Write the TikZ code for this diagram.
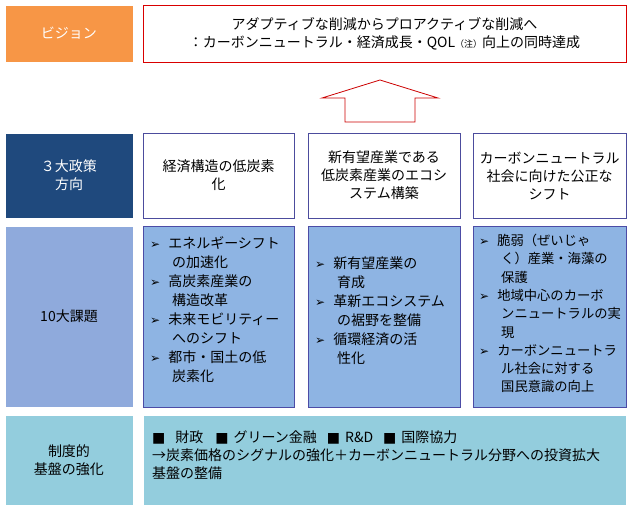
\documentclass[tikz,border=0pt]{standalone}
\usepackage{fontspec}
\setmainfont{Noto Sans CJK JP}
\newfontfamily\dv{DejaVu Sans}
\begin{document}
\begin{tikzpicture}[x=1pt,y=-1pt,font=\fontsize{14}{18}\selectfont,
 lbl/.style={draw=white,line width=0.8pt,minimum width=128pt,align=center,inner sep=0pt},
 wbox/.style={draw=blue!45!black!70,fill=white,line width=0.7pt,align=center,inner sep=0pt},
 bbox/.style={draw=blue!50!black!70,fill=bxcol,line width=0.7pt,inner sep=0pt},
 lst/.style={anchor=north west,align=left,inner sep=0pt,font=\fontsize{14}{19}\selectfont}]
\definecolor{bxcol}{HTML}{8EB4E3}
\definecolor{orng}{HTML}{F79646}
\definecolor{dblue}{HTML}{1F497D}
\definecolor{lblue}{HTML}{8FAADC}
\definecolor{cyn}{HTML}{93CDDD}
\useasboundingbox (0,0) rectangle (630,509);
\newcommand{\bl}{{\dv\fontsize{12}{14}\selectfont ➢}\hspace{8pt}}
\newcommand{\ind}{\hspace{22pt}}
% left column
\node[lbl,fill=orng,text=white,minimum height=57pt] (l1) at (69,33.5) {ビジョン};
\node[lbl,fill=dblue,text=white,minimum height=85pt] (l2) at (69,175.5) {３大政策\\方向};
\node[lbl,fill=lblue,minimum height=181pt] (l3) at (69,316.5) {10大課題};
\node[lbl,fill=cyn,minimum height=90pt] (l4) at (69,460) {制度的\\基盤の強化};
% vision
\node[draw=red!85!black,fill=white,line width=0.8pt,minimum width=483pt,minimum height=57pt,align=center,inner sep=0pt] (v) at (384.5,33.5)
 {アダプティブな削減からプロアクティブな削減へ\\：カーボンニュートラル・経済成長・QOL{\fontsize{9}{10}\selectfont（注）}向上の同時達成};
% arrow
\draw[draw=red!80!black,line width=0.8pt,fill=white] (345,122) -- (345,98) -- (322,98) -- (380,80) -- (438,98) -- (415,98) -- (415,122) -- cycle;
% row 2
\node[wbox,minimum width=151pt,minimum height=85pt] (a) at (218.5,175.5) {経済構造の低炭素\\化};
\node[wbox,minimum width=152pt,minimum height=85pt] (b) at (384,175.5) {新有望産業である\\低炭素産業のエコシ\\ステム構築};
\node[wbox,minimum width=153pt,minimum height=85pt] (c) at (549.5,175.5) {カーボンニュートラル\\社会に向けた公正な\\シフト};
% row 3
\node[bbox,minimum width=151pt,minimum height=181pt] (d) at (218.5,316.5) {};
\node[lst] at (150,236) {
\bl エネルギーシフト\\\ind の加速化\\
\bl 高炭素産業の\\\ind 構造改革\\
\bl 未来モビリティー\\\ind へのシフト\\
\bl 都市・国土の低\\\ind 炭素化};
\node[bbox,minimum width=152pt,minimum height=181pt] (e) at (384,316.5) {};
\node[lst] at (315,257) {
\bl 新有望産業の\\\ind 育成\\
\bl 革新エコシステム\\\ind の裾野を整備\\
\bl 循環経済の活\\\ind 性化};
\node[bbox,minimum width=153pt,minimum height=181pt] (f) at (549.5,316.5) {};
\node[lst,font=\fontsize{13.3}{18.3}\selectfont] at (479,234) {
\bl 脆弱（ぜいじゃ\\\ind く）産業・海藻の\\\ind 保護\\
\bl 地域中心のカーボ\\\ind ンニュートラルの実\\\ind 現\\
\bl カーボンニュートラ\\\ind ル社会に対する\\\ind 国民意識の向上};
% row 4
\node[draw=white,fill=cyn,minimum width=483pt,minimum height=90pt,inner sep=0pt] (g) at (384.5,460) {};
\node[lst,font=\fontsize{14}{18}\selectfont] at (152,431) {
{\dv■}\hspace{10pt}財政\hspace{12pt}{\dv■}\hspace{5pt}グリーン金融\hspace{10pt}{\dv■}\hspace{5pt}R\&D\hspace{10pt}{\dv■}\hspace{5pt}国際協力\\
→炭素価格のシグナルの強化＋カーボンニュートラル分野への投資拡大\\
基盤の整備};
\end{tikzpicture}
\end{document}
